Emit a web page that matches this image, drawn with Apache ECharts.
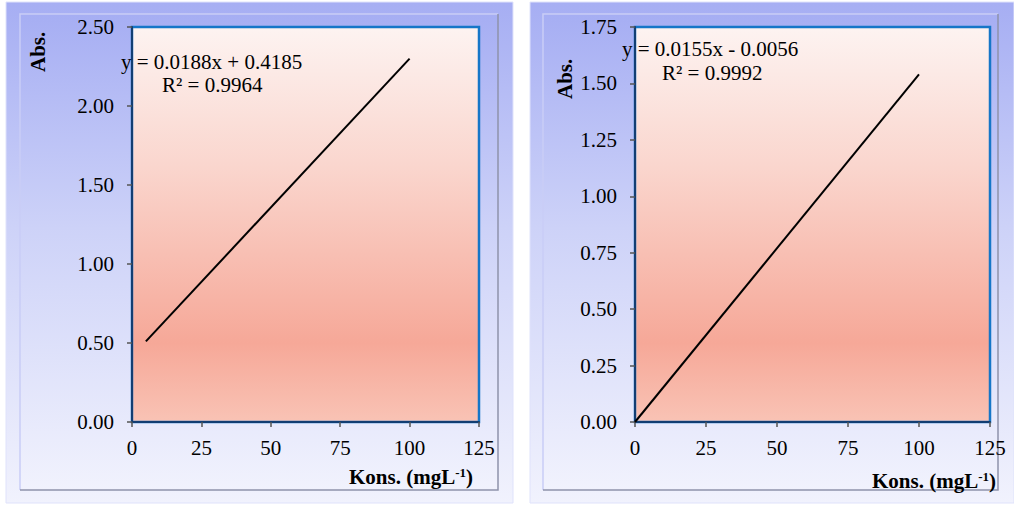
<!DOCTYPE html>
<html>
<head>
<meta charset="utf-8">
<title>Kurva kalibrasi</title>
<script src="https://cdn.jsdelivr.net/npm/echarts@6/dist/echarts.min.js"></script>
<style>
  html, body { margin: 0; padding: 0; background: #ffffff; }
  #chart { width: 1014px; height: 506px; }
</style>
</head>
<body>
<div id="chart"></div>
<script>
// Calibration curves: absorbance vs. concentration (two standards)
const xTicks = [0, 25, 50, 75, 100, 125];

const concLeft = [5, 100];
const absLeft = [0.51, 2.30];
const eqLeft = 'y = 0.0188x + 0.4185';
const r2Left = 'R² = 0.9964';

const concRight = [0, 100];
const absRight = [0.00, 1.54];
const eqRight = 'y = 0.0155x - 0.0056';
const r2Right = 'R² = 0.9992';

const yAxisLabel = 'Abs.';
const xAxisLabel = 'Kons. (mgL';

const serif = '"Liberation Serif", "Times New Roman", "DejaVu Serif", serif';

const chart = echarts.init(document.getElementById('chart'), null, { renderer: 'svg' });

function panelGradient() {
  return new echarts.graphic.LinearGradient(0, 0, 0, 1, [
    { offset: 0, color: '#a6aef3' },
    { offset: 0.45, color: '#cdd2f8' },
    { offset: 1, color: '#f1f2fd' }
  ]);
}
function plotGradient() {
  return new echarts.graphic.LinearGradient(0, 0, 0, 1, [
    { offset: 0, color: '#fdf3f1' },
    { offset: 0.35, color: '#fad6ce' },
    { offset: 0.8, color: '#f6a898' },
    { offset: 1, color: '#f9c3b5' }
  ]);
}

// Bevelled panel: outer frame, inner face, highlight and shadow edges
function panel(x0, y0, x1, y1, ix0, iy0, ix1, iy1) {
  return [
    { type: 'rect', z: -20, shape: { x: x0, y: y0, width: x1 - x0, height: y1 - y0 },
      style: { fill: panelGradient(), stroke: '#dfe2fb', lineWidth: 1 }, silent: true },
    { type: 'rect', z: -19, shape: { x: ix0, y: iy0, width: ix1 - ix0, height: iy1 - iy0 },
      style: { fill: panelGradient() }, silent: true },
    { type: 'polyline', z: -18, shape: { points: [[ix0, iy1], [ix0, iy0], [ix1, iy0]] },
      style: { stroke: '#c9cdf6', lineWidth: 1.5, fill: null }, silent: true },
    { type: 'polyline', z: -18, shape: { points: [[ix0, iy1], [ix1, iy1], [ix1, iy0]] },
      style: { stroke: '#8f93ab', lineWidth: 1.5, fill: null }, silent: true }
  ];
}

function text(str, x, y, size, weight, extra) {
  return Object.assign({
    type: 'text', z: 100, x: x, y: y,
    style: { text: str, font: weight + ' ' + size + 'px ' + serif, fill: '#000',
             textVerticalAlign: 'middle', verticalAlign: 'middle' }
  }, extra || {});
}

function richAxisName(x, y) {
  return {
    type: 'text', z: 100, x: x, y: y,
    style: {
      text: '{b|' + xAxisLabel + '}{s|-1}{b|)}',
      verticalAlign: 'middle',
      rich: {
        b: { fontFamily: serif, fontWeight: 'bold', fontSize: 21, fill: '#000', color: '#000' },
        s: { fontFamily: serif, fontWeight: 'bold', fontSize: 13, fill: '#000', color: '#000',
             verticalAlign: 'top', padding: [0, 0, 10, 0] }
      }
    }
  };
}

const axisLabelStyle = { color: '#000', fontFamily: serif, fontSize: 21 };

function xAxis(gridIndex) {
  return {
    type: 'value', gridIndex: gridIndex, min: 0, max: 125, interval: 25,
    axisLine: { show: true, lineStyle: { color: '#123e73', width: 2 } },
    axisTick: { show: true, inside: false, length: 5, lineStyle: { color: '#555', width: 1.5 } },
    axisLabel: Object.assign({ margin: 15, formatter: v => xTicks.includes(v) ? String(v) : '' }, axisLabelStyle),
    splitLine: { show: false }
  };
}
function yAxis(gridIndex, max, interval) {
  return {
    type: 'value', gridIndex: gridIndex, min: 0, max: max, interval: interval,
    axisLine: { show: true, lineStyle: { color: '#123e73', width: 2 } },
    axisTick: { show: true, inside: false, length: 5, lineStyle: { color: '#555', width: 1.5 } },
    axisLabel: Object.assign({ margin: 18, formatter: v => v.toFixed(2) }, axisLabelStyle),
    splitLine: { show: false }
  };
}

const gridStyle = { show: true, borderColor: '#1576c8', borderWidth: 2.5 };

chart.setOption({
  animation: false,
  backgroundColor: '#ffffff',
  grid: [
    Object.assign({ left: 132, top: 27, width: 347, height: 395, backgroundColor: plotGradient() }, gridStyle),
    Object.assign({ left: 635, top: 27, width: 355, height: 395, backgroundColor: plotGradient() }, gridStyle)
  ],
  xAxis: [xAxis(0), xAxis(1)],
  yAxis: [yAxis(0, 2.5, 0.5), yAxis(1, 1.75, 0.25)],
  series: [
    { type: 'line', xAxisIndex: 0, yAxisIndex: 0, showSymbol: false, symbol: 'none',
      lineStyle: { color: '#000', width: 2 }, z: 5,
      data: concLeft.map((c, i) => [c, absLeft[i]]) },
    { type: 'line', xAxisIndex: 1, yAxisIndex: 1, showSymbol: false, symbol: 'none',
      lineStyle: { color: '#000', width: 2 }, z: 5,
      data: concRight.map((c, i) => [c, absRight[i]]) }
  ],
  graphic: [].concat(
    panel(6, 2, 513, 503, 20, 14, 498, 490),
    panel(530, 2, 1014, 503, 543, 14, 998, 490),
    [
      text(eqLeft, 121, 62, 21, 'normal'),
      text(r2Left, 162, 85, 21, 'normal'),
      text(eqRight, 622, 49, 21, 'normal'),
      text(r2Right, 662, 73, 21, 'normal'),
      text(yAxisLabel, 38, 72, 21, 'bold', { rotation: Math.PI / 2 }),
      text(yAxisLabel, 565, 99, 21, 'bold', { rotation: Math.PI / 2 }),
      richAxisName(349, 477),
      richAxisName(872, 481)
    ]
  )
});
</script>
</body>
</html>
